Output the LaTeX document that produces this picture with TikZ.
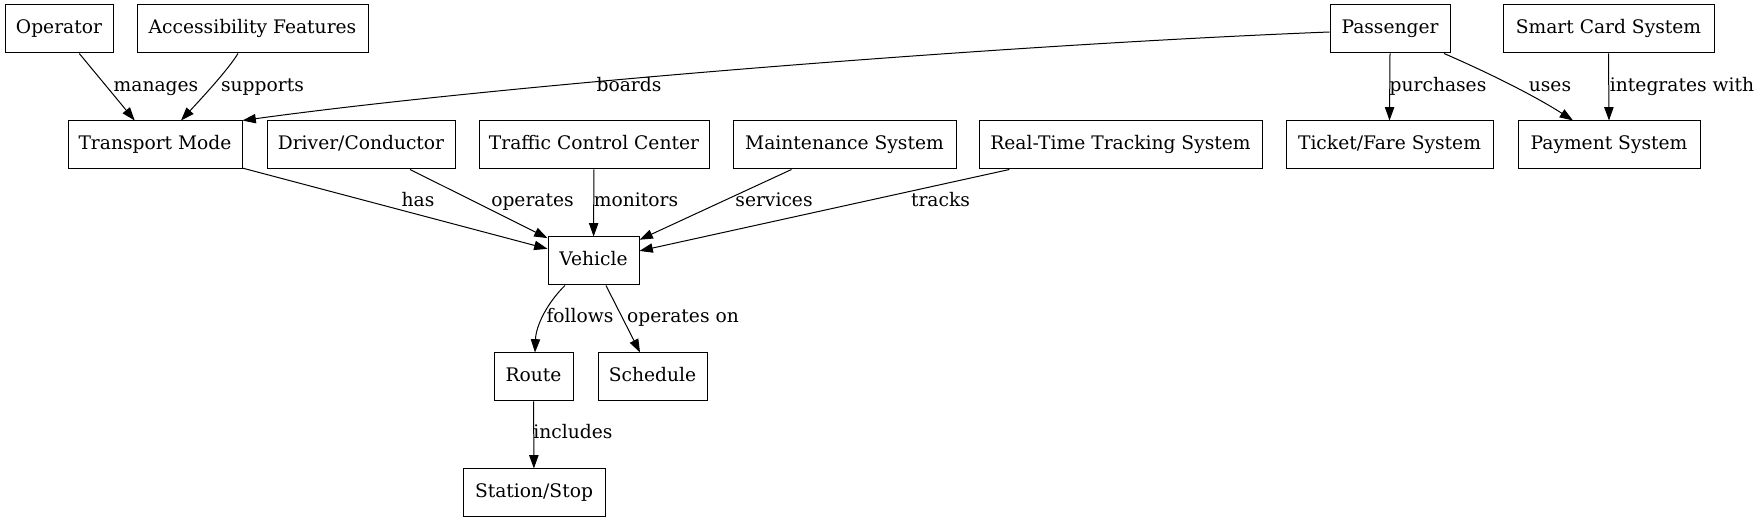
\documentclass[tikz,border=0pt]{standalone}
\usepackage{fontspec}
\setmainfont{DejaVu Serif}
\usetikzlibrary{arrows.meta,calc}
\newcommand{\fz}{\fontsize{14}{16.8}\selectfont}
\begin{document}
\begin{tikzpicture}[x=0.75pt,y=-0.75pt,
  bx/.style={draw, line width=0.75pt, minimum height=36pt, minimum width=#1*0.75pt,
    inner sep=0pt, font=\fz, text height=10pt, text depth=3pt},
  lbl/.style={inner sep=0pt, font=\fz, text height=10pt, text depth=3pt},
  arr/.style={line width=0.75pt, -{Triangle[length=10pt,width=7pt]}}]
\useasboundingbox (0,0) rectangle (1761,523);
% row 1
\node[bx=108] (op) at (59,29) {Operator};
\node[bx=231] (ac) at (252.5,29) {Accessibility Features};
\node[bx=120] (pa) at (1390,29) {Passenger};
\node[bx=211] (sc) at (1608.5,29) {Smart Card System};
% row 2
\node[bx=174] (tm) at (155,145) {Transport Mode};
\node[bx=188] (dc) at (361,145) {Driver/Conductor};
\node[bx=230] (tc) at (594,145) {Traffic Control Center};
\node[bx=223] (mt) at (844.5,145) {Maintenance System};
\node[bx=283] (rt) at (1120.5,145) {Real-Time Tracking System};
\node[bx=207] (tf) at (1389.5,145) {Ticket/Fare System};
\node[bx=182] (pm) at (1609,145) {Payment System};
% row 3-5
\node[bx=91] (ve) at (593.5,261) {Vehicle};
\node[bx=79] (ro) at (533.5,377) {Route};
\node[bx=109] (sd) at (652.5,377) {Schedule};
\node[bx=142] (ss) at (534,493) {Station/Stop};
% edges
\draw[arr] (op) -- (tm);
\draw[arr] ($(ac.south)+(-14.5,0)$) .. controls (228,70) and (200,100) .. ($(tm.north)+(26,0)$);
\draw[arr] ($(pa.west)+(0,3)$) .. controls (1000,45) and (500,85) .. (tm.north east);
\draw[arr] (pa.south) -- (tf.north);
\draw[arr] ($(pa.south)+(54,0)$) .. controls (1489,73) and (1535,96) .. ($(pm.north)+(-36,0)$);
\draw[arr] (sc.south) -- (pm.north);
\draw[arr] (tm) -- (ve);
\draw[arr] (dc) -- (ve);
\draw[arr] (tc) -- (ve);
\draw[arr] (mt) -- (ve);
\draw[arr] (rt) -- (ve);
\draw[arr] ($(ve.south)+(-28.5,0)$) .. controls (548,302) and (536,325) .. ($(ro.north)+(1.5,0)$);
\draw[arr] (ve) -- (sd);
\draw[arr] (ro) -- (ss);
% labels
\node[lbl] (l1) at (156,87) {manages};
\node[lbl] (l2) at (262.5,87) {supports};
\node[lbl] (l3) at (629,87) {boards};
\node[lbl] (l4) at (1438,87) {purchases};
\node[lbl] (l5) at (1550,87) {uses};
\node[lbl] (l6) at (1682,87) {integrates with};
\node[lbl] (l7) at (418,202) {has};
\node[lbl] (l8) at (532.5,202) {operates};
\node[lbl] (l9) at (636,202) {monitors};
\node[lbl] (l10) at (774,202) {services};
\node[lbl] (l11) at (940.5,202) {tracks};
\node[lbl] (l12) at (580,318) {follows};
\node[lbl] (l13) at (683,318) {operates on};
\node[lbl] (l14) at (573,434) {includes};
\end{tikzpicture}
\end{document}
